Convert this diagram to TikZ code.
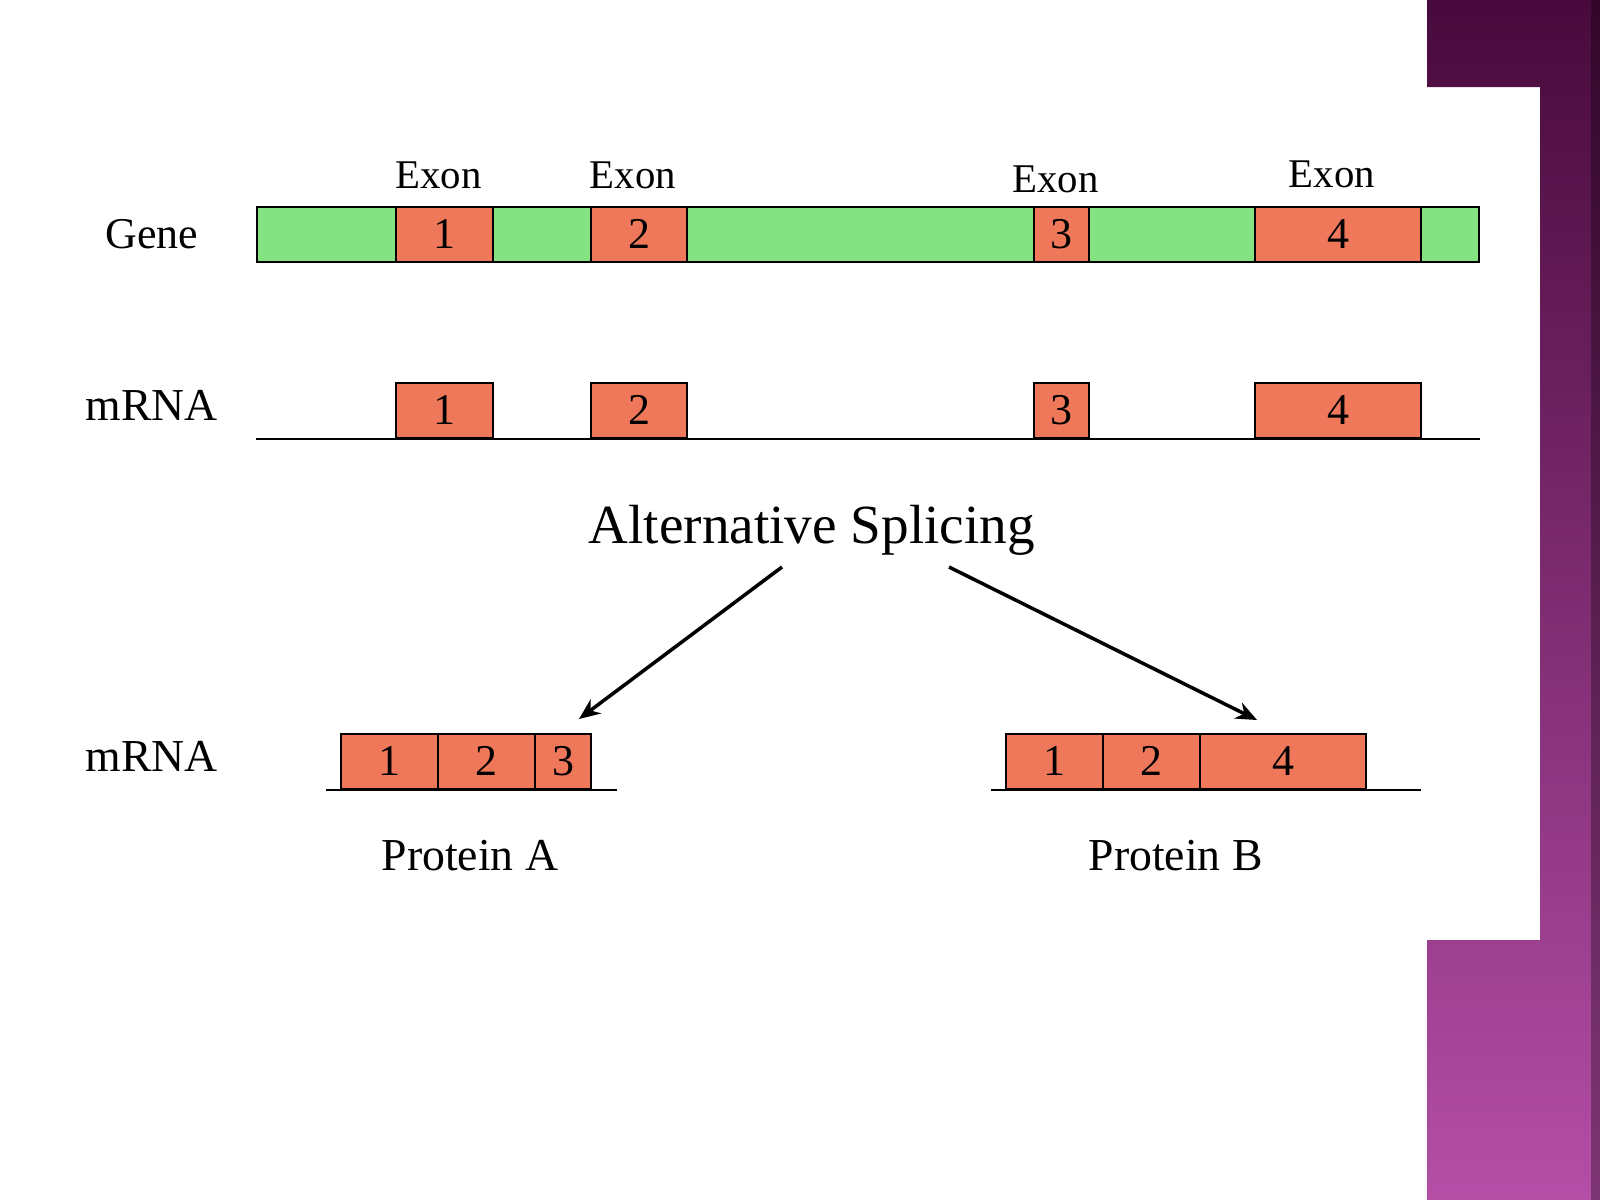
\documentclass[tikz,border=0pt]{standalone}
\usepackage{fontspec}
\setmainfont{Liberation Serif}
\usetikzlibrary{arrows.meta}
\definecolor{introngreen}{RGB}{132,226,130}
\definecolor{exonred}{RGB}{240,120,90}
\definecolor{slidetop}{RGB}{72,10,60}
\definecolor{slidemid}{RGB}{112,32,98}
\definecolor{slidebot}{RGB}{180,78,166}

\begin{document}
\begin{tikzpicture}[x=0.01cm,y=-0.01cm,
    exon/.style={draw,line width=0.6pt,fill=exonred,minimum height=0.55cm,inner sep=0pt,
      anchor=south west,font=\fontsize{12.5}{15}\selectfont},
    intron/.style={draw,line width=0.6pt,fill=introngreen,minimum height=0.55cm,inner sep=0pt,
      anchor=south west},
    lbl/.style={inner sep=0pt,anchor=base west,font=\fontsize{13}{15}\selectfont},
    exlbl/.style={inner sep=0pt,anchor=base,font=\fontsize{11.6}{13}\selectfont},
    strand/.style={line width=0.6pt},
    splice/.style={line width=1pt,-{Stealth[length=6pt,width=5pt]}}]
  \useasboundingbox (0,0) rectangle (1600,1200);
  \fill[white] (0,0) rectangle (1600,1200);
  % slide border
  \shade[top color=slidetop,middle color=slidemid,bottom color=slidebot]
    (1427,0) -- (1600,0) -- (1600,1200) -- (1427,1200) -- (1427,940)
    -- (1540,940) -- (1540,87) -- (1427,87) -- cycle;
  \fill[black,opacity=0.3] (1591,0) rectangle (1600,1200);

  % gene
  \node[lbl,font=\fontsize{12.5}{15}\selectfont] (genelbl) at (105,248) {Gene};
  \node[intron,minimum width=12.21cm] (gene) at (256,263) {};
  \foreach \n/\x/\w/\t in {1/395/97/188,2/590/96/188,3/1033/55/192,4/1254/166/187}{
    \node[exon,minimum width=\w*0.01cm] (g\n) at (\x,263) {\n};
    \node[exlbl] (x\n) at ({\x+\w/2-5},\t) {Exon};
  }

  % mRNA with exons
  \node[lbl] (mrna1) at (85,420) {mRNA};
  \draw[strand] (gene.west |- 0,439) coordinate (s1) -- (gene.east |- 0,439) coordinate (s2);
  \foreach \n/\x/\w in {1/395/97,2/590/96,3/1033/55,4/1254/166}
    \node[exon,minimum width=\w*0.01cm] (m\n) at (\x,439) {\n};

  \node[inner sep=0pt,anchor=base west,font=\fontsize{15.7}{19}\selectfont] (alt) at (588,543)
    {Alternative Splicing};

  % spliced variants
  \node[lbl] (mrna2) at (85,771) {mRNA};
  \coordinate (la) at (326,790);
  \coordinate (ra) at (617,790);
  \coordinate (lb) at (991,790);
  \coordinate (rb) at (1421,790);
  \draw[strand] (la) -- (ra) (lb) -- (rb);
  \foreach \n/\x/\w in {1/340/97,2/437/97,3/534/56}
    \node[exon,minimum width=\w*0.01cm] (a\n) at (\x,790) {\n};
  \foreach \n/\x/\w in {1/1005/97,2/1102/97,4/1199/166}
    \node[exon,minimum width=\w*0.01cm] (b\n) at (\x,790) {\n};

  \coordinate (outa) at (782,567);
  \coordinate (ina) at (579,719);
  \coordinate (outb) at (949,567);
  \coordinate (inb) at (1257,720);
  \draw[splice] (outa) -- (ina);
  \draw[splice] (outb) -- (inb);

  \node[lbl] (pa) at (381,870) {Protein A};
  \node[lbl] (pb) at (1088,870) {Protein B};
\end{tikzpicture}
\end{document}
